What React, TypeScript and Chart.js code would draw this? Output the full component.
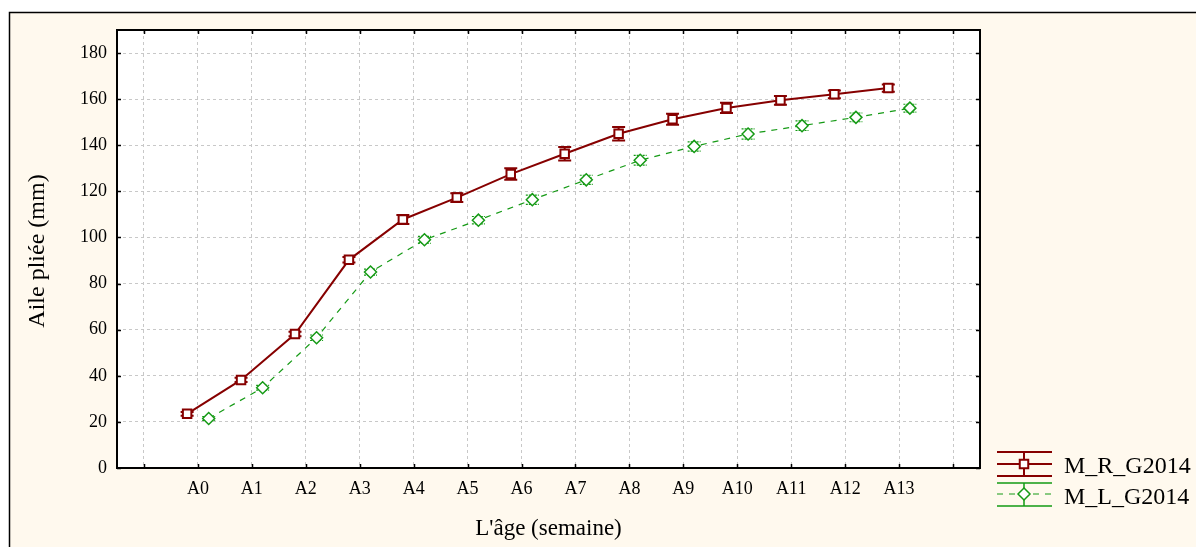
import React, { useEffect, useRef } from 'react';
import { Chart, registerables } from 'chart.js';

Chart.register(...registerables);

const categories = ['A0', 'A1', 'A2', 'A3', 'A4', 'A5', 'A6', 'A7', 'A8', 'A9', 'A10', 'A11', 'A12', 'A13'];
const seriesNames = ['M_R_G2014', 'M_L_G2014'];
const redValues = [23.5, 38.2, 58.1, 90.3, 107.8, 117.3, 127.5, 136.3, 145.0, 151.3, 156.2, 159.5, 162.1, 164.8];
const redErrors = [0.8, 0.9, 1.0, 1.2, 2.0, 1.9, 2.5, 2.9, 2.9, 2.4, 2.2, 1.9, 1.7, 1.6];
const greenValues = [21.5, 34.8, 56.5, 85.0, 99.0, 107.5, 116.4, 125.0, 133.5, 139.5, 144.9, 148.5, 152.1, 156.1];
const greenErrors = [0.8, 1.0, 1.2, 1.3, 1.5, 1.6, 2.0, 2.0, 2.1, 2.0, 2.2, 2.1, 1.9, 1.7];
const yTicks = [0, 20, 40, 60, 80, 100, 120, 140, 160, 180];
const xTitle = "L'âge (semaine)";
const yTitle = 'Aile pliée (mm)';

const RED = '#860000';
const GREEN = '#159a15';
const FONT = '"Liberation Serif", "Times New Roman", serif';
const OFFSET = 0.2;

const errorsBySet = [redErrors, greenErrors];
const valuesBySet = [redValues, greenValues];

const framePlugin = {
  id: 'framePlugin',
  beforeDraw(chart: any) {
    const { ctx, width, height, chartArea: a } = chart;
    ctx.save();
    ctx.fillStyle = '#ffffff';
    ctx.fillRect(0, 0, width, height);
    ctx.fillStyle = '#fff9ee';
    ctx.fillRect(9, 12, width - 9, height - 12);
    ctx.strokeStyle = '#000';
    ctx.lineWidth = 1.5;
    ctx.beginPath();
    ctx.moveTo(9.5, height + 5);
    ctx.lineTo(9.5, 12.5);
    ctx.lineTo(width + 5, 12.5);
    ctx.stroke();
    ctx.fillStyle = '#ffffff';
    ctx.fillRect(a.left, a.top, a.right - a.left, a.bottom - a.top);
    ctx.restore();
  },
  beforeDatasetsDraw(chart: any) {
    const { ctx } = chart;
    const ys = chart.scales.y;
    ctx.save();
    [0, 1].forEach((d) => {
      const meta = chart.getDatasetMeta(d);
      const color = d === 0 ? RED : GREEN;
      ctx.strokeStyle = color;
      ctx.lineWidth = d === 0 ? 2 : 1.2;
      ctx.setLineDash(d === 0 ? [] : [2, 1]);
      meta.data.forEach((pt: any, i: number) => {
        const v = valuesBySet[d][i];
        const e = errorsBySet[d][i];
        const yt = ys.getPixelForValue(v + e);
        const yb = ys.getPixelForValue(v - e);
        const x = pt.x;
        ctx.beginPath();
        ctx.moveTo(x, yt);
        ctx.lineTo(x, yb);
        ctx.moveTo(x - 6.5, yt);
        ctx.lineTo(x + 6.5, yt);
        ctx.moveTo(x - 6.5, yb);
        ctx.lineTo(x + 6.5, yb);
        ctx.stroke();
      });
    });
    ctx.restore();
  },
  afterDatasetsDraw(chart: any) {
    const { ctx, chartArea: a } = chart;
    const xs = chart.scales.x;
    const ys = chart.scales.y;
    ctx.save();
    ctx.strokeStyle = '#000';
    ctx.lineWidth = 2;
    ctx.strokeRect(a.left, a.top, a.right - a.left, a.bottom - a.top);
    ctx.lineWidth = 1.5;
    ctx.beginPath();
    xs.ticks.forEach((t: any) => {
      const x = Math.round(xs.getPixelForValue(t.value)) + 0.5;
      ctx.moveTo(x, a.bottom);
      ctx.lineTo(x, a.bottom - 4);
      ctx.moveTo(x, a.top);
      ctx.lineTo(x, a.top + 4);
    });
    ys.ticks.forEach((t: any) => {
      const y = Math.round(ys.getPixelForValue(t.value)) + 0.5;
      ctx.moveTo(a.left, y);
      ctx.lineTo(a.left + 4, y);
      ctx.moveTo(a.right, y);
      ctx.lineTo(a.right - 4, y);
    });
    ctx.stroke();
    ctx.restore();
  },
  afterDraw(chart: any) {
    const { ctx, chartArea: a } = chart;
    ctx.save();
    ctx.fillStyle = '#000';
    // x title
    ctx.font = `23px ${FONT}`;
    ctx.textAlign = 'center';
    ctx.textBaseline = 'alphabetic';
    ctx.fillText(xTitle, (a.left + a.right) / 2, 535);
    // y title
    ctx.font = `24px ${FONT}`;
    ctx.translate(43.5, (a.top + a.bottom) / 2 + 2);
    ctx.rotate(-Math.PI / 2);
    ctx.fillText(yTitle, 0, 0);
    ctx.restore();

    // legend
    ctx.save();
    const x0 = 997, x1 = 1052, xm = 1024;
    const rows = [
      { top: 452, mid: 464, bot: 476, color: RED, base: 472.5 },
      { top: 483, mid: 494, bot: 506, color: GREEN, base: 503.5 },
    ];
    rows.forEach((r, d) => {
      ctx.strokeStyle = r.color;
      ctx.lineWidth = d === 0 ? 2 : 1.5;
      ctx.setLineDash([]);
      ctx.beginPath();
      ctx.moveTo(x0, r.top); ctx.lineTo(x1, r.top);
      ctx.moveTo(x0, r.bot); ctx.lineTo(x1, r.bot);
      ctx.moveTo(xm, r.top); ctx.lineTo(xm, r.bot);
      ctx.stroke();
      ctx.beginPath();
      if (d === 1) ctx.setLineDash([6, 6]);
      ctx.lineWidth = d === 0 ? 2 : 1;
      ctx.moveTo(x0, r.mid); ctx.lineTo(x1, r.mid);
      ctx.stroke();
      ctx.setLineDash([]);
      ctx.fillStyle = '#fff';
      ctx.lineWidth = d === 0 ? 2 : 1.5;
      ctx.beginPath();
      if (d === 0) {
        ctx.rect(xm - 4.25, r.mid - 4.25, 8.5, 8.5);
      } else {
        ctx.moveTo(xm, r.mid - 6); ctx.lineTo(xm + 6, r.mid);
        ctx.lineTo(xm, r.mid + 6); ctx.lineTo(xm - 6, r.mid); ctx.closePath();
      }
      ctx.fill();
      ctx.stroke();
      ctx.fillStyle = '#000';
      ctx.font = `24px ${FONT}`;
      ctx.textAlign = 'left';
      ctx.textBaseline = 'alphabetic';
      ctx.fillText(seriesNames[d], 1064, r.base);
    });
    ctx.restore();
  },
};

export default function App() {
  const ref = useRef<HTMLCanvasElement | null>(null);
  useEffect(() => {
    if (!ref.current) return;
    const chart = new Chart(ref.current, {
      type: 'line',
      data: {
        datasets: [
          {
            label: seriesNames[0],
            data: redValues.map((v, i) => ({ x: i - OFFSET, y: v })),
            borderColor: RED,
            borderWidth: 2,
            pointStyle: 'rect',
            pointRadius: 6,
            pointBorderWidth: 2,
            pointBorderColor: RED,
            pointBackgroundColor: '#ffffff',
            tension: 0,
          },
          {
            label: seriesNames[1],
            data: greenValues.map((v, i) => ({ x: i + OFFSET, y: v })),
            borderColor: GREEN,
            borderWidth: 1.2,
            borderDash: [6, 6],
            pointStyle: 'rectRot',
            pointRadius: 6,
            pointBorderWidth: 1.5,
            pointBorderColor: GREEN,
            pointBackgroundColor: '#ffffff',
            tension: 0,
          },
        ],
      },
      options: {
        animation: false,
        responsive: false,
        events: [],
        layout: { padding: { left: 0, top: 30, right: 216, bottom: 0 } },
        plugins: { legend: { display: false }, tooltip: { enabled: false } },
        scales: {
          x: {
            type: 'linear',
            min: -1.5,
            max: 14.5,
            afterBuildTicks: (s: any) => {
              const arr = [];
              for (let v = -1; v <= categories.length; v++) arr.push({ value: v });
              s.ticks = arr;
            },
            afterFit: (s: any) => { s.height = 79; },
            ticks: {
              autoSkip: false,
              maxRotation: 0,
              padding: 10,
              color: '#000',
              font: { family: FONT, size: 18 },
              callback: (v: any) => categories[v] ?? '',
            },
            grid: { color: '#c8c8c8', lineWidth: 1, drawTicks: false },
            border: { display: false, dash: [3, 3] },
          },
          y: {
            type: 'linear',
            min: 0,
            max: 190,
            afterBuildTicks: (s: any) => { s.ticks = yTicks.map((v) => ({ value: v })); },
            afterFit: (s: any) => { s.width = 117; },
            ticks: {
              padding: 10,
              color: '#000',
              font: { family: FONT, size: 18 },
            },
            grid: { color: '#c8c8c8', lineWidth: 1, drawTicks: false },
            border: { display: false, dash: [3, 3] },
          },
        },
      },
      plugins: [framePlugin],
    } as any);
    return () => chart.destroy();
  }, []);
  return (
    <div style={{ position: 'fixed', left: 0, top: 0, width: 1196, height: 547 }}>
      <canvas ref={ref} width={1196} height={547} style={{ display: 'block' }} />
    </div>
  );
}
